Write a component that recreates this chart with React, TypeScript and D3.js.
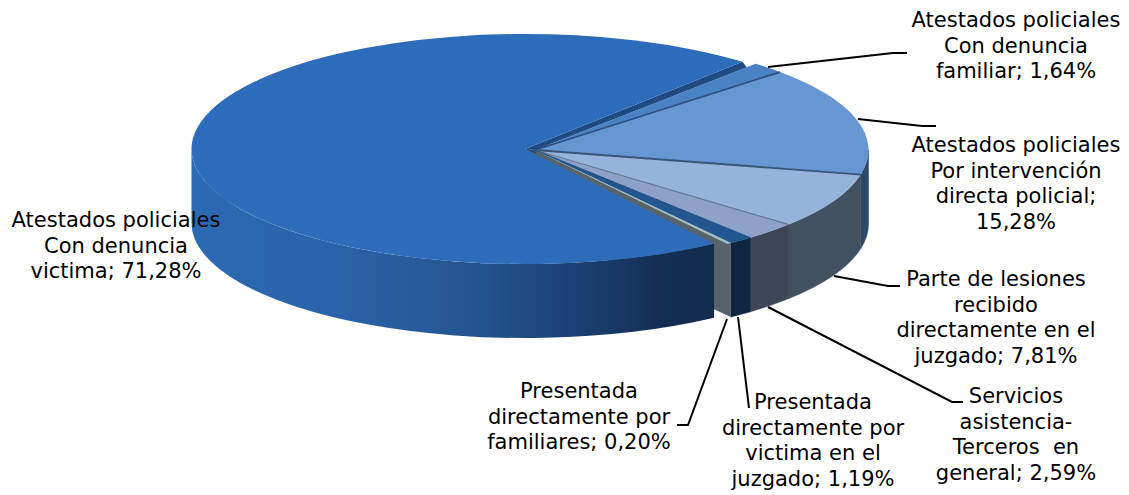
import * as d3 from "d3";

const slices = ["familiar", "intervencion", "lesiones", "terceros", "victimaJuzgado", "familiares", "victima"];
const values = [1.64, 15.28, 7.81, 2.59, 1.19, 0.2, 71.28];
const topColors = ["#4A82C6", "#6797D3", "#95B3DB", "#8EA2C9", "#22568F", "#A9C0C0", "#2D6CBB"];
const wallColors = ["#2F5C96", "#2D4868", "#425161", "#3F4558", "#0F2643", "#56636A", "url(#mainWall)"];
const edgeColors = ["#1F4A82", "#2F5080", "#3A5578", "#66788F", "#1F4F8A", "#56636A", "none"];

const labelLines = [
  ["Atestados policiales", "Con denuncia", "familiar; 1,64%"],
  ["Atestados policiales", "Por intervención", "directa policial;", "15,28%"],
  ["Parte de lesiones", "recibido", "directamente en el", "juzgado; 7,81%"],
  ["Servicios", "asistencia-", "Terceros  en", "general; 2,59%"],
  ["Presentada", "directamente por", "victima en el", "juzgado; 1,19%"],
  ["Presentada", "directamente por", "familiares; 0,20%"],
  ["Atestados policiales", "Con denuncia", "victima; 71,28%"],
];
const labelX = [1016, 1016, 996, 1016, 813, 579, 116];
const labelY = [27, 152, 286, 403, 409, 398, 227];
const leaders = [
  [[768, 67], [893, 53], [907, 53]],
  [[858, 119], [922, 126], [936, 126]],
  [[834, 276], [888, 286], [900, 286]],
  [[768, 307], [952, 402], [963, 402]],
  [[738, 317], [749, 408]],
  [[727, 319], [688, 425], [677, 425]],
];

const rx = 333.5;
const ry = 115;
const depth = 74;
const cx = 535;
const cy = 150;
const mainCx = 525;
const mainCy = 149;
const rad = (deg: number) => (deg * Math.PI) / 180;
const startInset = rad(0.7);
const endInset = rad(0.7);

const arcs = d3.pie<number>().sort(null).startAngle(rad(41.4)).endAngle(rad(401.4))(values);
const topArc = d3.arc<d3.PieArcDatum<number>>().innerRadius(0).outerRadius(rx);
const leaderLine = d3.line();

function rim(a: number, x0: number, y0: number): [number, number] {
  return [x0 + rx * Math.sin(a), y0 - ry * Math.cos(a)];
}

// side wall, only the part of the arc facing the viewer
function wall(a0: number, a1: number, x0: number, y0: number) {
  const from = Math.max(a0, Math.PI / 2);
  const to = Math.min(a1, (3 * Math.PI) / 2);
  if (to <= from) return "";
  const [x1, y1] = rim(from, x0, y0);
  const [x2, y2] = rim(to, x0, y0);
  return `M${x1},${y1}A${rx},${ry} 0 0 1 ${x2},${y2}L${x2},${y2 + depth}A${rx},${ry} 0 0 0 ${x1},${y1 + depth}Z`;
}

export default function App() {
  const main = arcs[6];
  const small = arcs[0];
  const thin = arcs[5];
  const [thinX, thinY] = rim(thin.startAngle, cx, cy);
  const mainTop = { ...main, startAngle: main.startAngle + startInset, endAngle: main.endAngle - endInset };
  const mainEnd = rim(mainTop.endAngle, mainCx, mainCy);
  const mainStart = rim(mainTop.startAngle, mainCx, mainCy);
  const notch = rim(small.startAngle, cx, cy);
  const notchEnd: [number, number] = [cx + (notch[0] - cx) * 0.96, cy + (notch[1] - cy) * 0.96];
  const tip: [number, number] = [mainCx + (mainStart[0] - mainCx) * 0.05, mainCy + (mainStart[1] - mainCy) * 0.05];

  return (
    <svg width={1129} height={495} style={{ position: "absolute", left: 0, top: 0 }} fontFamily="'DejaVu Sans', Verdana, sans-serif">
      <defs>
        <linearGradient id="mainWall" gradientUnits="userSpaceOnUse" x1={191} x2={714} y1={0} y2={0}>
          <stop offset="0%" stopColor="#2C6AB3" />
          <stop offset="30%" stopColor="#2A62A8" />
          <stop offset="55%" stopColor="#24548F" />
          <stop offset="75%" stopColor="#1A3F70" />
          <stop offset="90%" stopColor="#142E54" />
          <stop offset="100%" stopColor="#122A4C" />
        </linearGradient>
      </defs>

      {/* the other slices */}
      {arcs.slice(0, 5).map((d, i) => (
        <path
          key={slices[i] + "-wall"}
          d={wall(d.startAngle, d.endAngle, cx, cy)}
          fill={wallColors[i]}
          stroke={wallColors[i]}
          strokeWidth={0.5}
        />
      ))}

      {/* cut face left open by the exploded main slice */}
      <path
        d={`M${mainCx},${mainCy}L${cx},${cy}L${thinX},${thinY}L${thinX},${thinY + depth}L${mainCx},${mainCy + depth}Z`}
        fill={wallColors[5]}
      />

      {arcs.slice(0, 6).map((d, i) => (
        <path
          key={slices[i] + "-top"}
          d={topArc(d) as string}
          fill={topColors[i]}
          transform={`translate(${cx},${cy}) scale(1,${ry / rx})`}
        />
      ))}
      {arcs.slice(1, 5).map((d, i) => {
        const [x, y] = rim(d.startAngle, cx, cy);
        return <line key={slices[i + 1] + "-edge"} x1={cx} y1={cy} x2={x} y2={y} stroke={edgeColors[i + 1]} strokeWidth={i === 0 || i === 1 ? 1.8 : 1.2} />;
      })}

      <path
        d={`M${mainCx},${mainCy}L${cx},${cy}L${notchEnd[0]},${notchEnd[1]}L${mainEnd[0]},${mainEnd[1]}Z`}
        fill={edgeColors[0]}
      />
      <path d={`M${mainCx},${mainCy}L${cx},${cy}L${tip[0] + 2},${tip[1]}Z`} fill={edgeColors[0]} />

      {/* main slice */}
      <path d={wall(mainTop.startAngle, mainTop.endAngle, mainCx, mainCy)} fill={wallColors[6]} />
      <path
        d={topArc(mainTop) as string}
        fill={topColors[6]}
        transform={`translate(${mainCx},${mainCy}) scale(1,${ry / rx})`}
      />

      {leaders.map((pts, i) => (
        <path key={"leader-" + i} d={leaderLine(pts as [number, number][]) as string} fill="none" stroke="#000" strokeWidth={2} />
      ))}

      {labelLines.map((lines, i) => (
        <text key={slices[i]} x={labelX[i]} y={labelY[i]} textAnchor="middle" fontSize={21} fill="#000" style={{ whiteSpace: "pre" }}>
          {lines.map((t, j) => (
            <tspan key={j} x={labelX[i]} y={labelY[i] + j * 25.7}>
              {t}
            </tspan>
          ))}
        </text>
      ))}
    </svg>
  );
}
